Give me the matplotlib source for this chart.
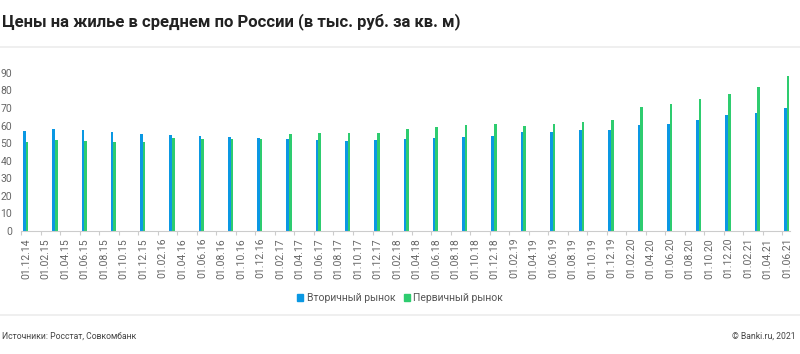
import matplotlib.pyplot as plt
from matplotlib.lines import Line2D
from matplotlib.patches import Patch

plt.rcParams['font.family'] = ['Roboto', 'DejaVu Sans']

# Tick labels every two months, Dec 2014 .. Jun 2021
tick_labels = ['01.12.14', '01.02.15', '01.04.15', '01.06.15', '01.08.15', '01.10.15',
               '01.12.15', '01.02.16', '01.04.16', '01.06.16', '01.08.16', '01.10.16',
               '01.12.16', '01.02.17', '01.04.17', '01.06.17', '01.08.17', '01.10.17',
               '01.12.17', '01.02.18', '01.04.18', '01.06.18', '01.08.18', '01.10.18',
               '01.12.18', '01.02.19', '01.04.19', '01.06.19', '01.08.19', '01.10.19',
               '01.12.19', '01.02.20', '01.04.20', '01.06.20', '01.08.20', '01.10.20',
               '01.12.20', '01.02.21', '01.04.21', '01.06.21']
tick_months = [2 * i for i in range(len(tick_labels))]

# Quarterly data, months after Dec 2014
data_months = [3 * i for i in range(27)]
secondary = [57.1, 58.1, 57.5, 56.4, 55.4, 54.5, 53.9, 53.4, 53.1,
             52.2, 52.0, 51.4, 51.8, 52.4, 52.8, 53.4, 54.1, 56.4,
             56.6, 57.7, 57.7, 60.4, 61.1, 63.2, 66.1, 67.2, 70.0]
primary = [50.9, 51.8, 51.2, 50.7, 50.5, 52.8, 52.6, 52.6, 52.4,
           55.4, 55.8, 55.8, 56.0, 58.1, 59.2, 60.2, 61.1, 59.8,
           60.7, 62.1, 63.2, 70.6, 72.5, 75.2, 78.0, 82.2, 88.3]

blue = '#0a98e3'
green = '#2ecc6f'
grey_text = '#666666'

fig = plt.figure(figsize=(8, 3.54), dpi=100)
ax = fig.add_axes([0.0266, 0.3475, 0.961, 0.4565])

w = 0.27
ax.bar([m + 0.45 - w / 2 for m in data_months], secondary, width=w, color=blue, linewidth=0)
ax.bar([m + 0.45 + w / 2 for m in data_months], primary, width=w, color=green, linewidth=0)

ax.set_xlim(0, 78.8)
ax.set_ylim(0, 92)
ax.set_xticks(tick_months)
ax.set_xticklabels(tick_labels, rotation=90, fontsize=7.5, color=grey_text, ha='left')
ax.set_yticks(range(0, 100, 10))
ax.tick_params(axis='y', length=0, pad=6.5, labelsize=7.5, labelcolor=grey_text)
ax.tick_params(axis='x', length=3, width=0.8, color='#cccccc', pad=2)
for s in ['top', 'right', 'left']:
    ax.spines[s].set_visible(False)
ax.spines['bottom'].set_color('#cccccc')
ax.spines['bottom'].set_linewidth(0.8)

# title and separators
fig.text(0.003, 1 - 22 / 354, 'Цены на жилье в среднем по России (в тыс. руб. за кв. м)',
         fontsize=12, fontweight='bold', color='#222222', va='center', ha='left')
fig.add_artist(Line2D([0, 1], [1 - 46.5 / 354] * 2, color='#ececec', linewidth=1.2))
fig.add_artist(Line2D([0, 1], [1 - 315 / 354] * 2, color='#ececec', linewidth=1.2))

# legend
handles = [Patch(color=blue, label='Вторичный рынок'), Patch(color=green, label='Первичный рынок')]
fig.legend(handles=handles, loc='center', bbox_to_anchor=(0.5, 1 - 298 / 354), ncol=2,
           frameon=False, fontsize=7.5, handlelength=0.6, handleheight=0.6,
           handletextpad=0.3, columnspacing=0.8, labelcolor='#555555')

# footer
fig.text(0.003, 1 - 336 / 354, 'Источники: Росстат, Совкомбанк', fontsize=6.2,
         color='#444444', va='center', ha='left')
fig.text(0.994, 1 - 336 / 354, '© Banki.ru, 2021', fontsize=6.2,
         color='#444444', va='center', ha='right')

fig.savefig('out.png', dpi=100)
